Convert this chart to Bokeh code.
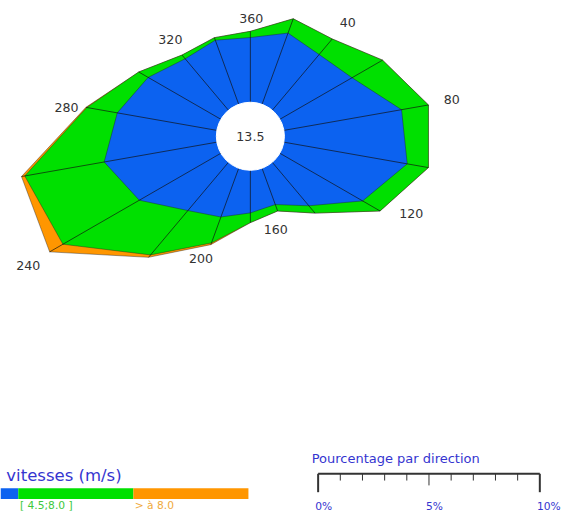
import numpy as np
from bokeh.plotting import figure
from bokeh.embed import file_html
from bokeh.resources import INLINE
from bokeh.core.properties import value

# ---- data (percent of time per direction and speed class) ----
directions = [0, 20, 40, 60, 80, 100, 120, 140, 160, 180, 200, 220, 240, 260, 280, 300, 320, 340]
blue_pct   = [2.93, 3.43, 3.29, 3.76, 5.39, 5.65, 4.31, 2.57, 1.75, 1.93, 2.35, 2.85, 4.25, 5.16, 4.56, 3.79, 3.04, 3.09]
green_pct  = [0.28, 0.69, 0.92, 1.59, 1.23, 0.97, 0.91, 0.43, 0.31, 0.44, 1.25, 2.62, 3.98, 3.64, 1.40, 0.49, 0.22, 0.12]
orange_pct = [0.00, 0.00, 0.00, 0.00, 0.00, 0.00, 0.00, 0.00, 0.00, 0.00, 0.08, 0.14, 0.69, 0.15, 0.04, 0.00, 0.00, 0.00]
calm_pct = 13.5
label_dirs = [360, 40, 80, 120, 160, 200, 240, 280, 320]
class_labels = ["[ 4.5;8.0 ]", "> à 8.0"]
scale_ticks = [0, 1, 2, 3, 4, 5, 6, 7, 8, 9, 10]
scale_labels = {0: "0%", 5: "5%", 10: "10%"}

BLUE = "#0c62f0"
GREEN = "#00e000"
ORANGE = "#ff9600"
TXT_BLUE = "#3535d0"

# ---- layout: reference drawn at 577x530, 1 % = PX reference pixels ----
PX = 22.8
R0 = 35 / PX          # radius of calm circle (data units)
CX, CY = 257, 140     # center in reference pixels
RW, RH = 577, 530
W, H = 561, 514
S = W / RW            # font scale

def dx(sx):
    return (sx - CX) / PX

def dy(sy):
    return (CY - sy) / PX

def fs(px):
    return f"{px * S:.1f}px"

# label offsets from outer vertex, reference pixels (layout)
label_off = {360: (1, -13), 40: (16, -17), 80: (24, -6), 120: (32, 3), 160: (-2, 19),
             200: (-10, 14), 240: (-22, 14), 280: (-20, 0), 320: (-12, -16)}

p = figure(width=W, height=H, output_backend="svg", toolbar_location=None,
           x_range=(dx(0), dx(RW)), y_range=(dy(RH), dy(0)),
           min_border=0, background_fill_color="white", border_fill_color="white")
p.axis.visible = False
p.grid.visible = False
p.outline_line_color = None

th = np.radians(directions)
b = np.array(blue_pct)
g = np.array(green_pct)
o = np.array(orange_pct)
cum_b = R0 + b
cum_g = R0 + b + g
cum_o = R0 + b + g + o

def poly(r):
    return list(r * np.sin(th)), list(r * np.cos(th))

for r, col in [(cum_o, ORANGE), (cum_g, GREEN), (cum_b, BLUE)]:
    xs, ys = poly(r)
    p.patch(xs, ys, fill_color=col, line_color="#222222", line_width=0.6, line_alpha=0.7)

# radial lines
p.segment(x0=list(R0 * np.sin(th)), y0=list(R0 * np.cos(th)),
          x1=list(cum_o * np.sin(th)), y1=list(cum_o * np.cos(th)),
          line_color="#111111", line_width=0.8, line_alpha=0.85)

# calm circle
p.circle(x=[0], y=[0], radius=R0, fill_color="white", line_color="white")
p.text(x=[0], y=[0], text=[f"{calm_pct}"], text_align="center", text_baseline="middle",
       text_font=value("DejaVu Sans"), text_font_size=fs(13), text_color="#333333")

# direction labels
lx, ly, lt = [], [], []
for d in label_dirs:
    i = directions.index(d % 360)
    a = np.radians(d)
    ox, oy = label_off[d]
    lx.append(cum_o[i] * np.sin(a) + ox / PX)
    ly.append(cum_o[i] * np.cos(a) - oy / PX)
    lt.append(str(d))
p.text(x=lx, y=ly, text=lt, text_align="center", text_baseline="middle",
       text_font=value("DejaVu Sans"), text_font_size=fs(13), text_color="#333333")

# ---- speed legend ----
p.text(x=[dx(6)], y=[dy(490)], text=["vitesses (m/s)"], text_align="left", text_baseline="middle",
       text_font=value("DejaVu Sans"), text_font_size=fs(17), text_color=TXT_BLUE)
p.quad(left=[dx(0), dx(18.3), dx(136.7)], right=[dx(18.3), dx(136.7), dx(255)],
       bottom=[dy(514)] * 3, top=[dy(503)] * 3,
       fill_color=[BLUE, GREEN, ORANGE], line_color=None)
p.text(x=[dx(20), dx(138)], y=[dy(521)] * 2, text=class_labels, text_align="left", text_baseline="middle",
       text_font=value("DejaVu Sans"), text_font_size=fs(11), text_color=["#3cc83c", "#f0aa3c"])

# ---- percentage scale bar ----
x0s = dx(326.7)
p.text(x=[dx(320)], y=[dy(472)], text=["Pourcentage par direction"], text_align="left", text_baseline="middle",
       text_font=value("DejaVu Sans"), text_font_size=fs(13.4), text_color=TXT_BLUE)
p.segment(x0=[x0s], y0=[dy(488)], x1=[x0s + scale_ticks[-1]], y1=[dy(488)], line_color="#333333", line_width=2)
tick_len = [19 if t in (0, 10) else (12 if t == 5 else 7) for t in scale_ticks]
tick_w = [2 if t in (0, 10) else 1 for t in scale_ticks]
p.segment(x0=[x0s + t for t in scale_ticks], y0=[dy(488)] * len(scale_ticks),
          x1=[x0s + t for t in scale_ticks], y1=[dy(488 + L) for L in tick_len],
          line_color="#333333", line_width=tick_w)
p.text(x=[x0s + t - 3 / PX for t in scale_labels], y=[dy(522)] * len(scale_labels),
       text=list(scale_labels.values()), text_align="left", text_baseline="middle",
       text_font=value("DejaVu Sans"), text_font_size=fs(11), text_color=TXT_BLUE)

open("out.html", "w").write(file_html(p, INLINE))
